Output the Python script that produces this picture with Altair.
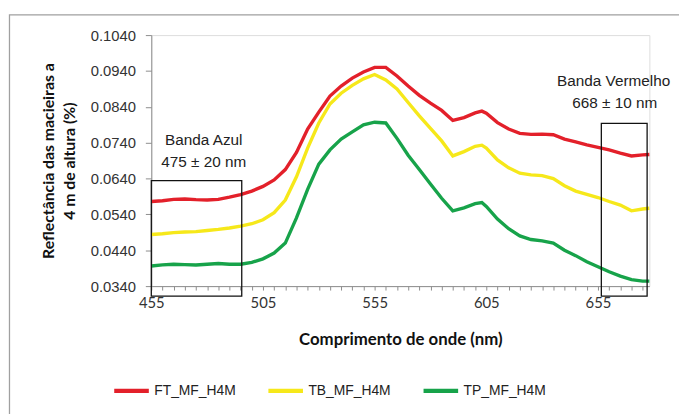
import altair as alt
import pandas as pd

# ---- data ----
wavelength = [455, 460, 465, 470, 475, 480, 485, 490, 495, 500, 505, 510, 515, 520, 525,
              530, 535, 540, 545, 550, 555, 560, 565, 570, 575, 580, 585, 590, 595, 600,
              603, 605, 610, 615, 620, 625, 630, 635, 640, 645, 650, 655, 660, 665, 670,
              675, 678]

ft_mf_h4m = [0.0576, 0.0578, 0.0582, 0.0583, 0.0581, 0.0580, 0.0582, 0.0588, 0.0595, 0.0605,
             0.0618, 0.0636, 0.0665, 0.0713, 0.0778, 0.0825, 0.0870, 0.0898, 0.0920, 0.0937,
             0.0950, 0.0950, 0.0926, 0.0898, 0.0872, 0.0850, 0.0830, 0.0802, 0.0810, 0.0823,
             0.0828, 0.0822, 0.0796, 0.0778, 0.0766, 0.0763, 0.0764, 0.0762, 0.0750, 0.0742,
             0.0734, 0.0727, 0.0720, 0.0711, 0.0703, 0.0706, 0.0707]

tb_mf_h4m = [0.0484, 0.0486, 0.0489, 0.0491, 0.0492, 0.0495, 0.0498, 0.0502, 0.0507, 0.0514,
             0.0525, 0.0545, 0.0580, 0.0645, 0.0725, 0.0795, 0.0848, 0.0878, 0.0900, 0.0918,
             0.0930, 0.0915, 0.0890, 0.0852, 0.0815, 0.0780, 0.0745, 0.0703, 0.0715, 0.0730,
             0.0733, 0.0725, 0.0692, 0.0670, 0.0655, 0.0650, 0.0648, 0.0640, 0.0620, 0.0605,
             0.0596, 0.0587, 0.0576, 0.0566, 0.0550, 0.0555, 0.0557]

tp_mf_h4m = [0.0396, 0.0399, 0.0401, 0.0400, 0.0399, 0.0401, 0.0403, 0.0401, 0.0401, 0.0406,
             0.0416, 0.0432, 0.0460, 0.0530, 0.0610, 0.0680, 0.0720, 0.0750, 0.0770, 0.0790,
             0.0797, 0.0795, 0.0752, 0.0705, 0.0665, 0.0625, 0.0585, 0.0550, 0.0558, 0.0570,
             0.0573, 0.0562, 0.0527, 0.0500, 0.0480, 0.0470, 0.0466, 0.0460, 0.0440, 0.0425,
             0.0408, 0.0394, 0.0380, 0.0368, 0.0358, 0.0354, 0.0354]

series_names = ["FT_MF_H4M", "TB_MF_H4M", "TP_MF_H4M"]
series_colors = ["#E3202A", "#F6E81A", "#17A34A"]

y_ticks = [0.034, 0.044, 0.054, 0.064, 0.074, 0.084, 0.094, 0.104]
x_ticks = list(range(455, 679, 5))

# annotation boxes (data units)
box_x = [455, 656.5]
box_x2 = [495.5, 677]
box_y = [0.0312, 0.0312]
box_y2 = [0.0634, 0.0794]

# annotation labels (data units)
label_text = ["Banda Azul", "475 ± 20 nm", "Banda Vermelho", "668 ± 10 nm"]
label_x = [478.5, 478.5, 662.0, 662.5]
label_y = [0.0746, 0.0686, 0.0912, 0.0850]

# ---- build tables ----
rows = []
for name, vals in zip(series_names, [ft_mf_h4m, tb_mf_h4m, tp_mf_h4m]):
    for w, v in zip(wavelength, vals):
        rows.append({"nm": w, "val": v, "serie": name})
df = pd.DataFrame(rows)
boxes = pd.DataFrame({"x": box_x, "x2": box_x2, "y": box_y, "y2": box_y2})
labels = pd.DataFrame({"t": label_text, "x": label_x, "y": label_y})

x_scale = alt.Scale(domain=[455, 678], nice=False, zero=False)
y_scale = alt.Scale(domain=[0.034, 0.104], nice=False, zero=False)

lines = alt.Chart(df).mark_line(strokeWidth=3.4, clip=False).encode(
    x=alt.X("nm:Q", scale=x_scale,
            axis=alt.Axis(values=x_ticks, tickCount=200,
                          labelExpr="(datum.value - 455) % 50 == 0 ? datum.label : ''",
                          title="Comprimento de onde (nm)", labelOverlap=False,
                          grid=False, domainColor="#8c8c8c", tickColor="#8c8c8c",
                          tickSize=4, labelPadding=6, labelFont="Lato",
                          labelFontSize=15, labelColor="#333333", labelFlush=False,
                          titleFont="Lato", titleFontSize=17, titleFontWeight="bold",
                          titleColor="#111111", titlePadding=21)),
    y=alt.Y("val:Q", scale=y_scale,
            axis=alt.Axis(values=y_ticks, tickCount=50, format=".4f", labelOverlap=False,
                          labelBound=False, labelFlush=False,
                          title=["Reflectância das macieiras a", "4 m de altura (%)"],
                          grid=False, domainColor="#8c8c8c", tickColor="#8c8c8c",
                          tickSize=6, labelPadding=10, labelFont="Liberation Sans",
                          labelFontSize=15, labelColor="#333333",
                          titleFont="Lato", titleFontSize=16, titleFontWeight="bold",
                          titleColor="#111111", titleLineHeight=21, titlePadding=13)),
    color=alt.Color("serie:N",
                    scale=alt.Scale(domain=series_names, range=series_colors),
                    legend=alt.Legend(title=None, orient="none", direction="horizontal",
                                      legendX=-40, legendY=340,
                                      symbolType="stroke", symbolStrokeWidth=4.5,
                                      symbolSize=1225, labelOffset=3,
                                      columnPadding=23, labelFont="Liberation Sans",
                                      labelFontSize=14, labelColor="#222222")),
    order=alt.Order("nm:Q"),
)

rects = alt.Chart(boxes).mark_rect(fillOpacity=0, stroke="#111111", strokeWidth=1.3,
                                    clip=False).encode(
    x=alt.X("x:Q", scale=x_scale), x2="x2:Q",
    y=alt.Y("y:Q", scale=y_scale), y2="y2:Q",
)

texts = alt.Chart(labels).mark_text(font="Liberation Sans", fontSize=15.5,
                                     color="#222222", align="center",
                                     baseline="middle").encode(
    x=alt.X("x:Q", scale=x_scale), y=alt.Y("y:Q", scale=y_scale), text="t:N"
)

frame = alt.Chart(pd.DataFrame({"a": [0]})).mark_rect(
    fillOpacity=0, stroke="#a0a0a0", strokeWidth=1.3).encode(
    x=alt.value(-143.5), x2=alt.value(560), y=alt.value(-20.5), y2=alt.value(420)
)

chart = alt.layer(frame, lines, rects, texts).properties(
    width=504, height=254,
    autosize=alt.AutoSizeParams(type="none"),
    padding={"left": 145, "top": 25, "right": 30, "bottom": 127},
).configure_view(stroke=None).configure(background="white")

chart.save("out.html", embed_options={"renderer": "svg", "actions": False})
